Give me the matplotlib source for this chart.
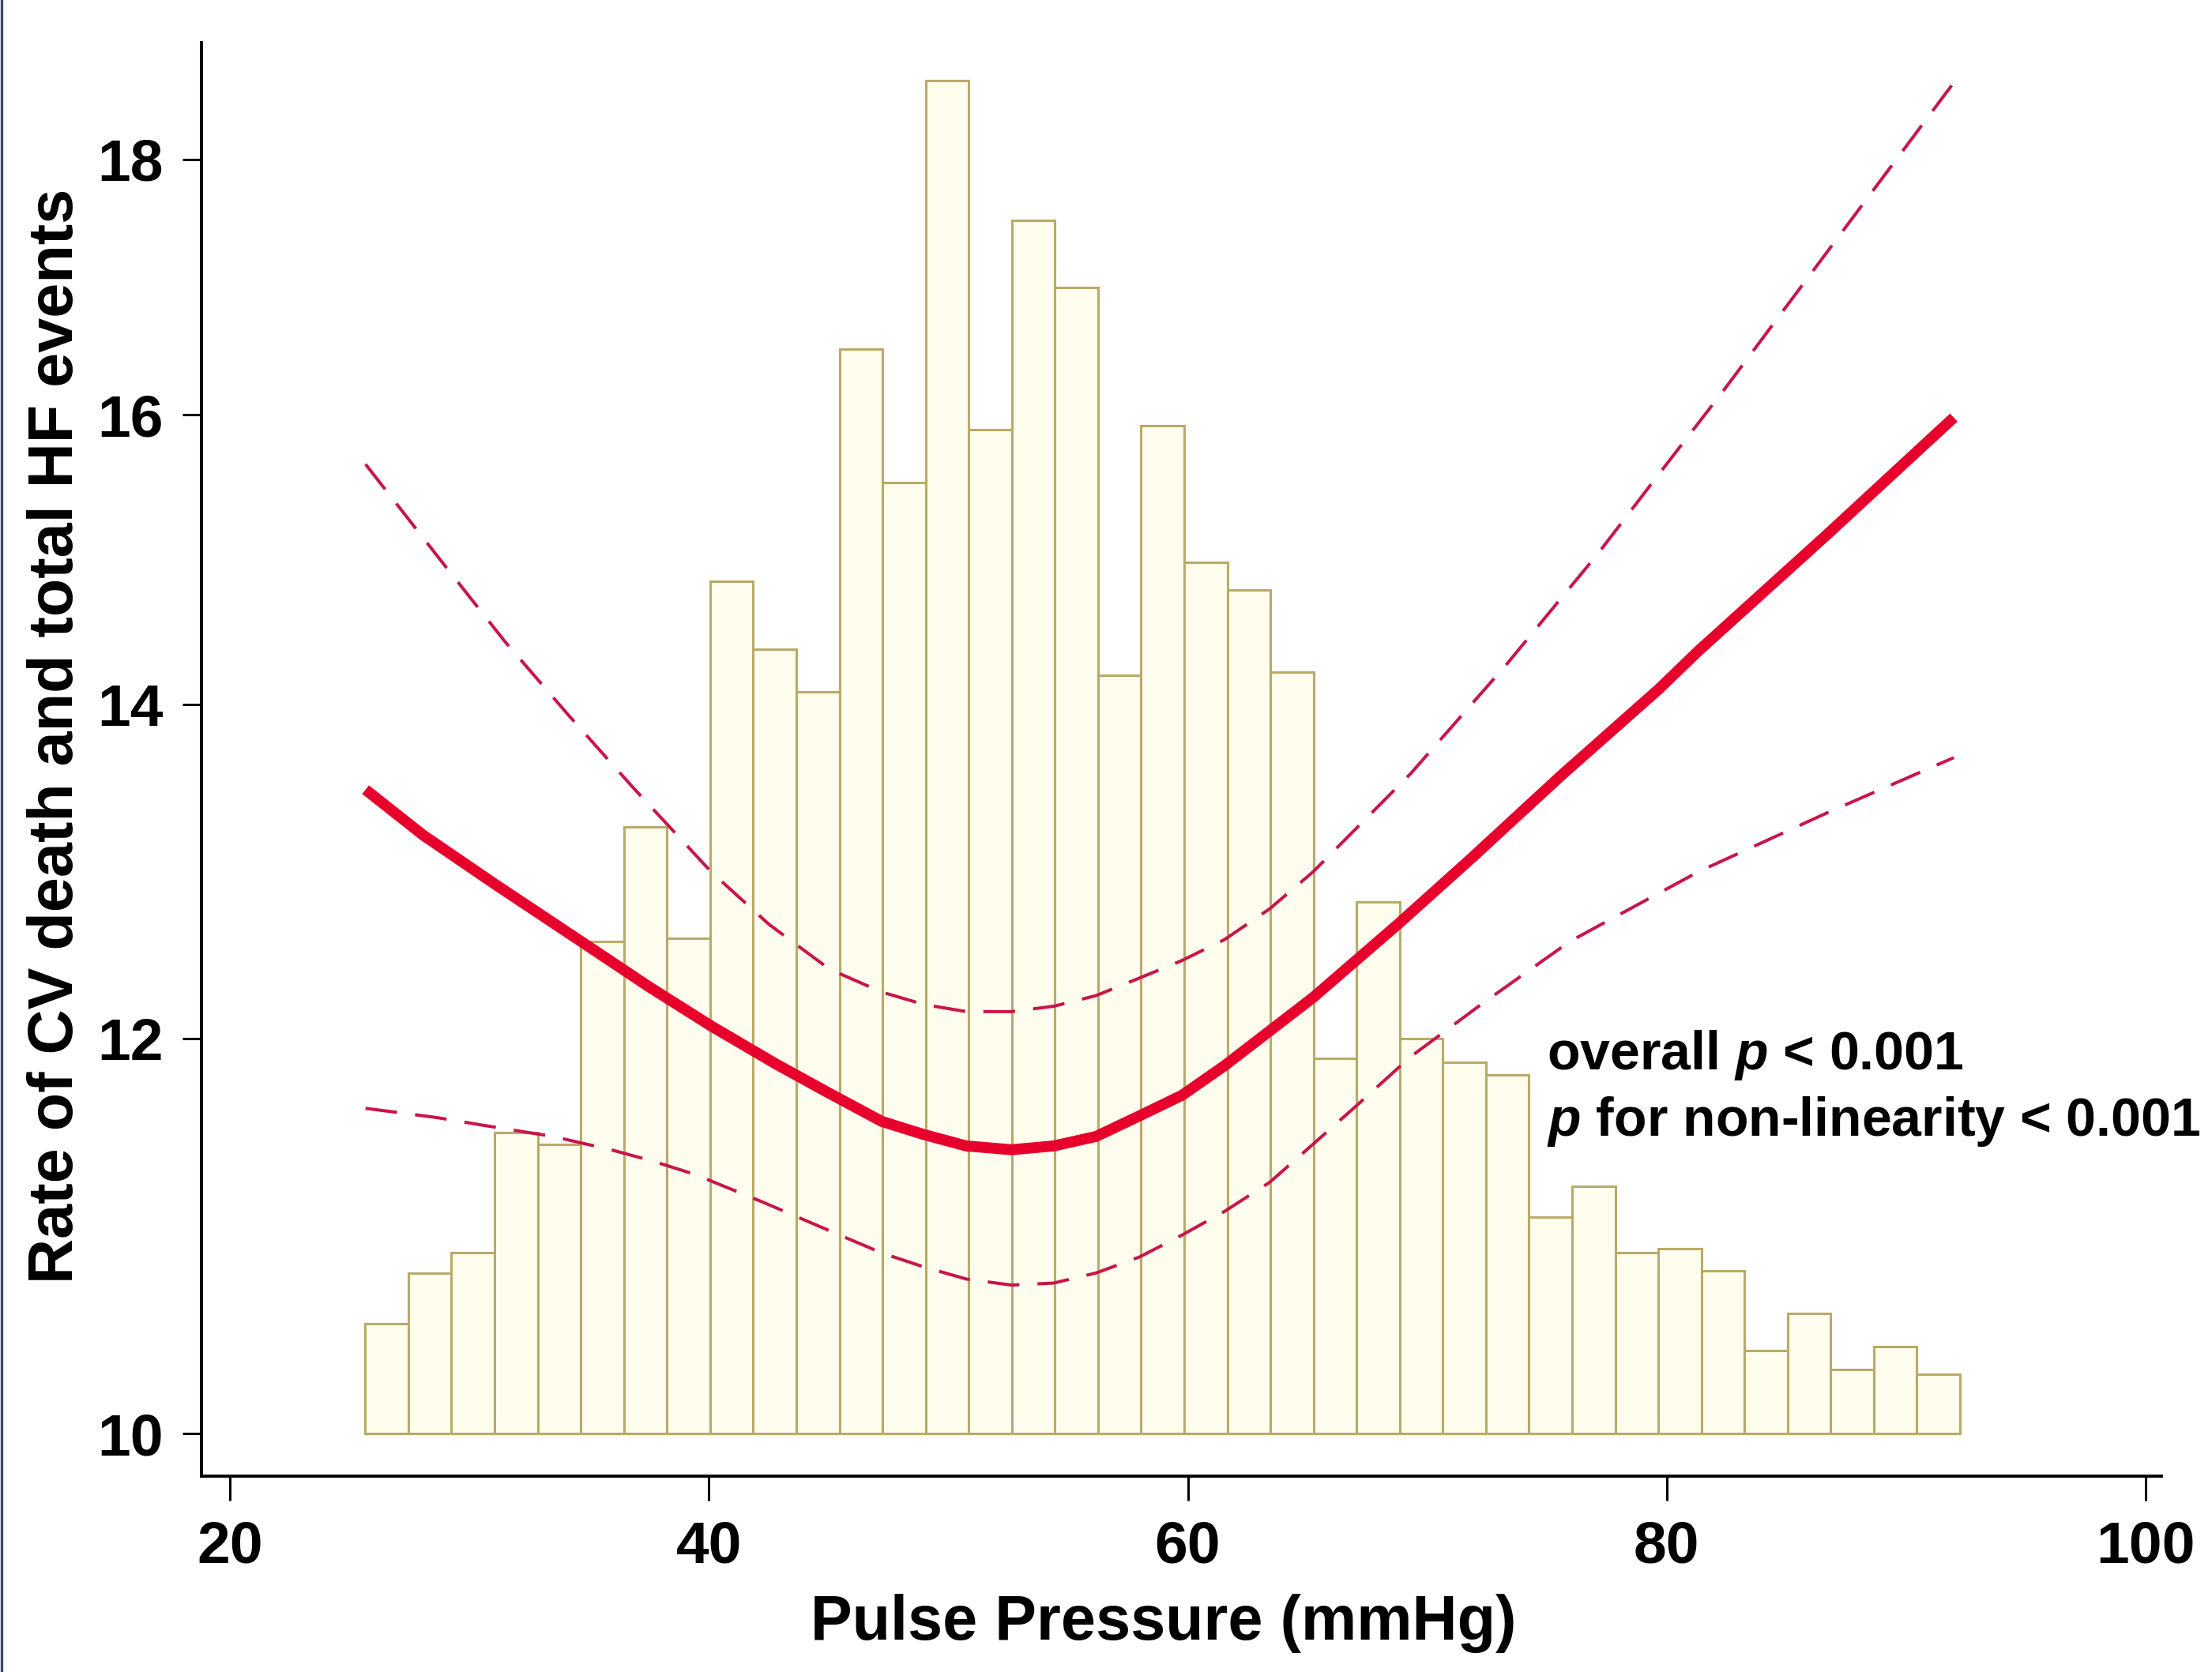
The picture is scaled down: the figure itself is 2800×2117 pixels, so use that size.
import numpy as np
import matplotlib
matplotlib.use("Agg")
import matplotlib.pyplot as plt
from matplotlib.lines import Line2D
from matplotlib.ticker import NullLocator

plt.rcParams['font.family'] = ['Liberation Sans', 'DejaVu Sans']
plt.rcParams['font.weight'] = 'bold'
plt.rcParams['mathtext.fontset'] = 'custom'
plt.rcParams['mathtext.it'] = 'Liberation Sans:italic:bold'
plt.rcParams['mathtext.rm'] = 'Liberation Sans:bold'

# histogram of pulse pressure (drawn on the rate axis, base at 10)
bin_start = 25.65
bin_width = 1.8
hist_tops = [10.52, 10.77, 10.87, 11.49, 11.43, 12.55, 13.23, 12.57, 14.82, 14.36,
             14.08, 16.49, 15.51, 18.67, 15.89, 17.50, 16.97, 14.19, 15.92, 14.95,
             14.76, 14.21, 11.89, 12.78, 12.00, 11.87, 11.80, 11.05, 11.21, 10.87,
             10.89, 10.78, 10.39, 10.57, 10.30, 10.41, 10.28]

# spline estimate
fit_x = [25.66, 28.07, 31.02, 34.55, 37.50, 40.09, 42.80, 45.04, 47.22, 48.98,
         50.75, 52.64, 54.40, 56.17, 57.99, 59.76, 61.53, 65.24, 68.78, 71.84,
         75.61, 79.68, 81.33, 86.63, 91.99]
fit_y = [13.46, 13.18, 12.89, 12.56, 12.29, 12.07, 11.86, 11.70, 11.55, 11.48,
         11.42, 11.40, 11.42, 11.47, 11.58, 11.69, 11.85, 12.23, 12.65, 13.04,
         13.55, 14.10, 14.35, 15.13, 15.98]

# upper 95% CI
up_x = [25.66, 28.95, 31.49, 34.14, 36.79, 40.09, 42.50, 45.04, 47.22, 48.98,
        50.75, 52.64, 54.40, 56.17, 57.99, 59.76, 61.53, 63.42, 65.24, 69.31,
        73.31, 77.14, 79.68, 82.33, 86.98, 91.99]
up_y = [15.64, 14.93, 14.41, 13.93, 13.48, 12.96, 12.65, 12.39, 12.26, 12.19,
        12.15, 12.15, 12.18, 12.24, 12.34, 12.44, 12.56, 12.74, 12.96, 13.56,
        14.26, 15.01, 15.57, 16.17, 17.32, 18.65]

# lower 95% CI
lo_x = [25.66, 28.66, 30.54, 33.49, 35.91, 37.67, 39.44, 42.21, 45.27, 47.22,
        48.98, 50.75, 52.64, 54.40, 56.17, 57.99, 59.76, 61.53, 63.42, 65.24,
        67.01, 69.31, 72.25, 75.96, 81.33, 86.75, 91.99]
lo_y = [11.62, 11.57, 11.53, 11.47, 11.40, 11.34, 11.27, 11.13, 10.97, 10.87,
        10.80, 10.74, 10.71, 10.72, 10.77, 10.85, 10.96, 11.08, 11.23, 11.43,
        11.63, 11.90, 12.19, 12.55, 12.96, 13.32, 13.66]

x_ticks = [20, 40, 60, 80, 100]
y_ticks = [10, 12, 14, 16, 18]

fig = plt.figure(figsize=(14, 10.585), dpi=200)
ax = fig.add_axes([0.0912, 0.1172, 0.8858, 0.8575])
ax.set_yscale('log')

lefts = bin_start + bin_width * np.arange(len(hist_tops))
ax.bar(lefts, np.array(hist_tops) - 10, width=bin_width, bottom=10, align='edge',
       color='#FFFDEE', edgecolor='#BAAA68', linewidth=1.1, zorder=1)

ax.plot(up_x, up_y, color='#C8154A', lw=1.45, dashes=(10, 5.7), zorder=2)
ax.plot(lo_x, lo_y, color='#C8154A', lw=1.45, dashes=(10, 5.7), zorder=2)
ax.plot(fit_x, fit_y, color='#E8002D', lw=5, solid_capstyle='butt',
        solid_joinstyle='round', zorder=3)

ax.set_xlim(18.82, 100.65)
ax.set_ylim(9.807, 19.0)
ax.set_xticks(x_ticks)
ax.set_xticklabels([str(v) for v in x_ticks])
ax.set_yticks(y_ticks)
ax.set_yticklabels([str(v) for v in y_ticks])
ax.yaxis.set_minor_locator(NullLocator())

for s in ['top', 'right']:
    ax.spines[s].set_visible(False)
for s in ['left', 'bottom']:
    ax.spines[s].set_linewidth(1.4)
ax.tick_params(axis='x', length=11, width=1.1, pad=9, labelsize=27)
ax.tick_params(axis='y', length=8.5, width=1.1, pad=9, labelsize=27)

fig.text(0.526, 0.029, 'Pulse Pressure (mmHg)', ha='center', va='center',
         fontsize=28.5, fontweight='bold')
fig.text(0.0255, 0.56, 'Rate of CV death and total HF events', ha='center',
         va='center', rotation=90, fontsize=28.5, fontweight='bold')

ax.text(75.0, 11.91, r'overall $\mathit{p}$ < 0.001', ha='left', va='center',
        fontsize=24.5, fontweight='bold')
ax.text(75.0, 11.55, r'$\mathit{p}$ for non-linearity < 0.001', ha='left',
        va='center', fontsize=24.5, fontweight='bold')

fig.add_artist(Line2D([0.0006, 0.0006], [0, 1], transform=fig.transFigure,
                      color='#2E4A7A', lw=1.2))

fig.savefig('out.png', dpi=200)
